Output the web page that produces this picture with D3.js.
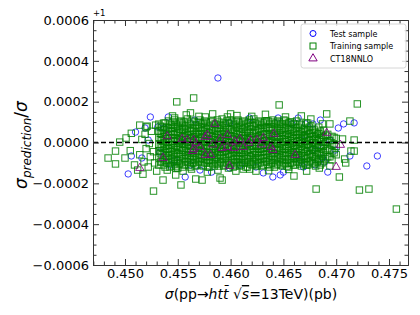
<!DOCTYPE html>
<html><head><meta charset="utf-8">
<script src="https://cdn.jsdelivr.net/npm/d3@7"></script>
<style>
body{margin:0;background:#fff;}
text{font-family:"DejaVu Sans",sans-serif;}
</style></head>
<body><svg id="c" width="420" height="315"></svg>
<script>
// ---------- DATA (x in pb, deviation of sigma_pred/sigma from 1 in units of 1e-6) ----------
const xTickLabels = ["0.450","0.455","0.460","0.465","0.470","0.475"];
const yTickLabels = ["\u22120.0006","\u22120.0004","\u22120.0002","0.0000","0.0002","0.0004","0.0006"];
const xTickValues = [0.450,0.455,0.460,0.465,0.470,0.475];
const yTickValues = [-0.0006,-0.0004,-0.0002,0,0.0002,0.0004,0.0006];
const devUnit = 1e-6;

// Test sample (blue circles)
const testX = [0.4588,0.4524,0.4541,0.4510,0.4531,0.4537,0.4599,0.4645,0.4658,0.4671,0.4678,0.4707,0.4717,
  0.4503,0.4506,0.4516,0.4557,0.4543,0.4582,0.4599,0.4624,0.4631,0.4640,0.4647,0.4650,0.4669,0.4680,0.4689,
  0.4713,0.4729,0.4739,0.4670,0.4677,0.4683,0.4687,0.4666,0.4694,0.4699,0.4702,0.4533,0.4547,0.4566,0.4618,
  0.4609,0.4562,0.4522,0.4519,0.4685,0.4664,0.4571,0.4692];
const testDev = [316,125,125,51,76,71,96,120,91,91,91,91,96,
  -154,-66,-76,-169,-110,-145,-125,-120,-149,-169,-159,-145,-120,-110,-96,
  -66,-115,-66,37,-37,-12,-76,-86,12,-37,71,-47,-86,110,120,
  -110,-110,12,71,110,120,-135,-145];

// Training sample (green squares): outlying / edge points
const trainX = [0.4484,0.4491,0.4491,0.4495,0.4500,0.4501,0.4509,0.4512,0.4517,0.4527,0.4536,0.4548,0.4553,
  0.4567,0.4573,0.4592,0.4612,0.4624,0.4590,0.4660,0.4681,0.4703,0.4694,0.4708,0.4709,0.4714,0.4717,0.4717,
  0.4706,0.4713,0.4687,0.4694,0.4691,0.4720,0.4722,0.4731,0.4757,0.4549,0.4565,0.4646,0.4562,0.4547,0.4553,
  0.4576,0.4505,0.4506,0.4514,0.4516,0.4519,0.4520,0.4518,0.4521,0.4522,0.4523,0.4524,0.4525,0.4527,0.4528,
  0.4529,0.4530,0.4514,0.4520,
  0.4545,0.4558,0.4570,0.4583,0.4597,0.4606,0.4620,0.4633,0.4652,0.4667,0.4676,0.4600,
  0.4540,0.4555,0.4563,0.4578,0.4588,0.4605,0.4618,0.4636,0.4655,0.4672,0.4684,0.4548];
const trainDev = [-76,-42,-105,2,-76,22,-110,-135,-155,-238,-184,-159,-208,
  -179,-184,-184,-130,-140,-174,-164,-228,-169,-115,-81,-100,-42,-42,12,
  17,105,91,91,140,189,-233,-228,-326,199,218,184,145,120,105,
  125,-40,45,-60,15,40,-30,-95,80,-120,-5,-70,55,-45,-100,
  85,-140,85,76,
  130,135,128,140,125,132,128,138,125,130,115,140,
  -135,-140,-130,-145,-135,-140,-130,-138,-132,-140,-125,-125];

// Training sample: dense core, by column (x position, deviations)
const coreX = [0.4532,0.4535,0.4538,0.4541,0.4544,0.4547,0.4550,0.4553,0.4556,0.4559,0.4562,0.4565,0.4568,
  0.4571,0.4574,0.4577,0.4580,0.4583,0.4586,0.4589,0.4592,0.4595,0.4598,0.4601,0.4604,0.4607,0.4610,0.4613,
  0.4616,0.4619,0.4622,0.4625,0.4628,0.4631,0.4634,0.4637,0.4640,0.4643,0.4646,0.4649,0.4652,0.4655,0.4658,
  0.4661,0.4664,0.4667,0.4670,0.4673,0.4676,0.4679,0.4682,0.4685,0.4688,0.4692,0.4696,0.4700];
const coreDev = [
 [-110,-75,-40,-10,25,55,90],[-95,-60,-25,10,40,75],[-120,-85,-50,-15,20,50,95],[-100,-65,-30,0,35,70,105],
 [-115,-80,-45,-10,20,55,85],[-105,-70,-35,5,40,75,110],[-125,-90,-55,-20,15,50,80],[-100,-60,-25,10,45,95],
 [-110,-80,-40,-5,30,65,100],[-95,-65,-30,5,35,70,115],[-120,-85,-50,-15,20,55,90],[-100,-70,-35,0,30,60,100],
 [-110,-75,-40,-10,25,50,85],[-95,-60,-25,10,40,75,110],[-115,-80,-45,-15,20,55,95],[-100,-70,-30,5,35,65,100],
 [-120,-85,-50,-20,15,45,80],[-105,-65,-35,0,30,60,105],[-95,-75,-40,-10,25,55,90],[-115,-80,-45,-5,35,70,100],
 [-100,-60,-25,10,40,75,115],[-110,-75,-40,-15,20,50,85],[-125,-90,-55,-20,15,45,95],[-100,-65,-30,0,30,65,100],
 [-115,-80,-45,-10,25,60,90],[-95,-70,-35,5,40,70,110],[-110,-85,-50,-15,20,50,85],[-100,-60,-25,10,35,75,105],
 [-120,-80,-40,-5,30,55,95],[-105,-70,-35,0,25,65,100],[-95,-60,-30,10,45,80,115],[-115,-85,-50,-20,15,50,90],
 [-100,-65,-30,5,35,70,100],[-110,-75,-45,-10,25,55,95],[-95,-60,-25,10,40,75,105],[-120,-85,-50,-15,20,60,90],
 [-100,-70,-35,0,30,65,110],[-110,-80,-40,-5,25,55,95],[-95,-60,-25,15,45,80,100],[-115,-85,-50,-15,20,50,90],
 [-105,-65,-30,5,35,70,105],[-120,-80,-40,-10,25,60,95],[-100,-70,-35,0,30,65,100],[-110,-75,-45,-15,20,55,90],
 [-95,-60,-30,10,40,75],[-115,-85,-50,-20,15,50,85],[-100,-65,-25,5,35,70],[-110,-75,-40,-10,25,60,95],
 [-90,-55,-20,15,45,80],[-105,-70,-35,0,30,65],[-95,-60,-25,10,40],[-110,-80,-45,-15,20,55],
 [-90,-50,-15,25,60],[-70,-30,5,40],[-85,-45,-10,30],[-60,-20,20]];
const coreX2 = [0.45335,0.45365,0.45395,0.45425,0.45455,0.45485,0.45515,0.45545,0.45575,0.45605,0.45635,
  0.45665,0.45695,0.45725,0.45755,0.45785,0.45815,0.45845,0.45875,0.45905,0.45935,0.45965,0.45995,0.46025,
  0.46055,0.46085,0.46115,0.46145,0.46175,0.46205,0.46235,0.46265,0.46295,0.46325,0.46355,0.46385,0.46415,
  0.46445,0.46475,0.46505,0.46535,0.46565,0.46595,0.46625,0.46655,0.46685,0.46715,0.46745,0.46775,0.46805,
  0.46835,0.46865,0.4690,0.4694,0.4698];
const coreDev2 = [
 [-95,-55,-20,15,45,80],[-110,-75,-40,-5,30,60,95],[-100,-65,-30,5,35,75],[-120,-85,-45,-15,20,55,90],
 [-95,-60,-25,5,40,70,100],[-115,-85,-50,-15,20,55,90],[-105,-70,-35,0,35,65,100],[-120,-80,-40,-10,25,60,85],
 [-95,-60,-20,15,45,80],[-110,-75,-45,-10,20,55,95],[-100,-65,-30,5,40,70,105],[-115,-85,-50,-15,15,45,85],
 [-95,-60,-25,10,40,70,100],[-110,-75,-40,-5,25,60,90],[-100,-65,-30,5,40,75,105],[-120,-85,-50,-15,20,50,85],
 [-100,-65,-30,0,35,65,100],[-115,-85,-50,-20,15,45,90],[-105,-60,-25,10,40,70,110],[-95,-65,-30,0,20,55,85],
 [-115,-80,-45,-10,25,60,95],[-100,-60,-25,5,35,70,105],[-110,-70,-35,0,30,65,110],[-120,-85,-50,-15,15,50,85],
 [-100,-65,-30,10,45,75,105],[-115,-80,-50,-20,15,55,95],[-100,-70,-35,0,35,65,100],[-120,-80,-45,-10,20,50,90],
 [-95,-65,-20,15,45,80,110],[-110,-85,-50,-15,15,45,85],[-105,-75,-45,-10,25,60,95],[-100,-65,-30,0,30,65,105],
 [-115,-80,-45,-15,20,55,85],[-95,-60,-25,10,40,75,100],[-110,-75,-40,0,35,70,105],[-100,-65,-30,5,40,75,100],
 [-120,-85,-55,-20,15,45,90],[-105,-70,-35,0,35,70,105],[-110,-75,-40,-5,30,60,90],[-100,-65,-30,5,35,70,110],
 [-115,-85,-50,-20,15,45,85],[-100,-60,-25,10,40,75,100],[-110,-80,-50,-15,20,50,90],[-95,-65,-30,5,35,70,105],
 [-105,-75,-40,-5,25,55,90],[-100,-65,-35,0,30,65],[-110,-80,-45,-10,20,55,95],[-95,-60,-25,10,40,75],
 [-100,-70,-35,0,30,60],[-115,-80,-45,-10,25,50],[-85,-55,-20,15,45,75],[-100,-65,-30,5,35],
 [-80,-40,0,35],[-70,-35,10],[-50,-10,25]];

// CT18NNLO (purple triangles)
const ctX = [0.4585,0.4540,0.4559,0.4565,0.4578,0.4597,0.4590,0.4609,0.4619,0.4625,0.4631,0.4641,0.4565,
  0.4571,0.4576,0.4581,0.4592,0.4597,0.4603,0.4612,0.4617,0.4638,0.4536,0.4599,0.4661,0.4564,0.4514,0.4567,
  0.4576,0.4640,0.4691,0.4704,0.4700,0.4554,0.4604,0.4629,0.4583];
const ctDev = [91,30,12,12,37,37,17,17,12,12,22,42,-32,
  -22,-61,-61,-27,-22,-27,-22,-2,-22,-76,-115,-61,-42,-125,-2,
  27,-37,47,-12,-120,17,5,-10,-10];

const legendLabels = ["Test sample","Training sample","CT18NNLO"];
const seriesColors = ["#0000ff","#008000","#800080"];

// ---------- CHART ----------
const svg = d3.select("#c");
const L=93, R=408, T=20, B=265;
const x = d3.scaleLinear().domain([0.44697,0.47680]).range([L,R]);
const y = d3.scaleLinear().domain([-0.0006,0.0006]).range([B,T]);

svg.append("rect").attr("width",420).attr("height",315).attr("fill","#fff");

const plot = svg.append("g");
// test
plot.append("g").selectAll("circle").data(d3.zip(testX,testDev)).join("circle")
  .attr("cx",d=>x(d[0])).attr("cy",d=>y(d[1]*devUnit)).attr("r",3.2)
  .attr("fill","none").attr("stroke",seriesColors[0]).attr("stroke-width",1).attr("stroke-opacity",0.75);
// training
const trainPts = d3.zip(trainX,trainDev)
  .concat(coreX.flatMap((cx,i)=>coreDev[i].map(v=>[cx,v])))
  .concat(coreX2.flatMap((cx,i)=>coreDev2[i].map(v=>[cx,v])));
const s=6.4;
plot.append("g").selectAll("rect").data(trainPts).join("rect")
  .attr("x",d=>x(d[0])-s/2).attr("y",d=>y(d[1]*devUnit)-s/2).attr("width",s).attr("height",s)
  .attr("fill","none").attr("stroke",seriesColors[1]).attr("stroke-width",1).attr("stroke-opacity",0.85);
// CT18
const tri = d3.symbol().type(d3.symbolTriangle).size(30);
plot.append("g").selectAll("path").data(d3.zip(ctX,ctDev)).join("path")
  .attr("transform",d=>`translate(${x(d[0])},${y(d[1]*devUnit)})`).attr("d",tri)
  .attr("fill","none").attr("stroke",seriesColors[2]).attr("stroke-width",1).attr("stroke-opacity",0.85);
// dashed reference
svg.append("line").attr("x1",L).attr("x2",R).attr("y1",y(0)).attr("y2",y(0))
  .attr("stroke","#000").attr("stroke-width",1.4).attr("stroke-dasharray","5,3");

// axes
const xMinor = d3.range(0.447,0.4769,0.001).filter(v=>!xTickValues.some(t=>Math.abs(t-v)<1e-7));
const yMinor = d3.range(-0.0006,0.00061,0.00005).filter(v=>!yTickValues.some(t=>Math.abs(t-v)<1e-9));
function ax(gen, scale, tr, vals, size, labels){
  const a = gen(scale).tickValues(vals).tickSizeInner(-size).tickSizeOuter(0).tickPadding(4);
  if(labels) a.tickFormat((d,i)=>labels[i]); else a.tickFormat("");
  const g = svg.append("g").attr("transform",tr).call(a);
  g.selectAll("line").attr("stroke","#333");
  g.select(".domain").attr("stroke","#333");
  g.selectAll("text").attr("font-size",13).attr("fill","#000").attr("font-family","DejaVu Sans");
  return g;
}
ax(d3.axisBottom,x,`translate(0,${B})`,xTickValues,6,xTickLabels);
ax(d3.axisBottom,x,`translate(0,${B})`,xMinor,3.5,null);
ax(d3.axisTop,x,`translate(0,${T})`,xTickValues,6,null);
ax(d3.axisTop,x,`translate(0,${T})`,xMinor,3.5,null);
ax(d3.axisLeft,y,`translate(${L},0)`,yTickValues,6,yTickLabels);
ax(d3.axisLeft,y,`translate(${L},0)`,yMinor,3.5,null);
ax(d3.axisRight,y,`translate(${R},0)`,yTickValues,6,null);
ax(d3.axisRight,y,`translate(${R},0)`,yMinor,3.5,null);

// offset text
svg.append("text").attr("x",L).attr("y",16).attr("font-size",8.5).text("+1");

// x label
const xl = svg.append("text").attr("x",251).attr("y",299).attr("text-anchor","middle").attr("font-size",14);
xl.append("tspan").attr("font-style","italic").text("σ");
xl.append("tspan").text("(pp→");
xl.append("tspan").attr("font-style","italic").text("htt\u0304");
xl.append("tspan").text(" √");
xl.append("tspan").attr("font-style","italic").attr("text-decoration","overline").text("s");
xl.append("tspan").text("=13TeV)(pb)");

// y label
const yl = svg.append("text").attr("transform","translate(27,145) rotate(-90)").attr("text-anchor","middle").attr("font-size",17);
yl.append("tspan").attr("font-style","italic").text("σ");
yl.append("tspan").attr("font-style","italic").attr("font-size",12).attr("dy",4).text("prediction");
yl.append("tspan").attr("dy",-4).text("/");
yl.append("tspan").attr("font-style","italic").text("σ");

// legend
const lg = svg.append("g");
lg.append("rect").attr("x",301).attr("y",24).attr("width",105).attr("height",44).attr("rx",2.5)
  .attr("fill","#fff").attr("fill-opacity",0.8).attr("stroke","#ccc").attr("stroke-width",0.8);
const rows=[33.5,46,58.5];
lg.append("circle").attr("cx",313).attr("cy",rows[0]).attr("r",3).attr("fill","none").attr("stroke",seriesColors[0]);
lg.append("rect").attr("x",310).attr("y",rows[1]-3).attr("width",6).attr("height",6).attr("fill","none").attr("stroke",seriesColors[1]);
lg.append("path").attr("transform",`translate(313,${rows[2]})`).attr("d",tri).attr("fill","none").attr("stroke",seriesColors[2]);
legendLabels.forEach((t,i)=>lg.append("text").attr("x",330).attr("y",rows[i]+3).attr("font-size",8).text(t));
</script></body></html>
